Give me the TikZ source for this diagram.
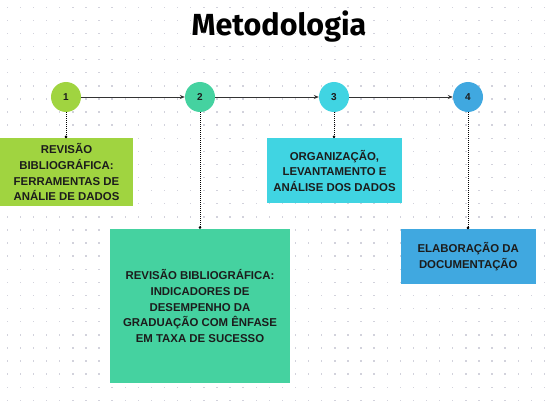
\documentclass[tikz,border=0pt]{standalone}
\usepackage{fontspec}
\setmainfont{Liberation Sans}
\newfontfamily\titlefont{Fira Sans}
\usetikzlibrary{arrows.meta}
\definecolor{cgreen}{HTML}{A0D440}
\definecolor{cteal}{HTML}{45D2A0}
\definecolor{ccyan}{HTML}{40D4E2}
\definecolor{cblue}{HTML}{40A8E0}
\definecolor{cdot}{HTML}{D2D2DC}
\definecolor{ctext}{HTML}{1C1C1C}
\definecolor{cline}{HTML}{333333}
\tikzset{
  circ/.style={circle, minimum size=30pt, inner sep=0pt, text=ctext,
    font=\fontsize{10}{12}\selectfont\bfseries},
  box/.style={rectangle, inner sep=0pt, align=center, text=ctext,
    font=\fontsize{11.4}{15.7}\selectfont\bfseries},
  arr/.style={draw=cline, line width=0.7pt, -{Stealth[length=5pt,width=4pt]}},
  vconn/.style={draw=black, line width=0.6pt, dash pattern=on 1.2pt off 0.8pt,
    -{Circle[length=2.6pt]}},
}
\begin{document}
\begin{tikzpicture}[x=1pt,y=-1pt]
\useasboundingbox (0,0) rectangle (547,409);
\fill[white] (0,0) rectangle (547,409);
% dot grid
\foreach \i in {0,...,41}{
  \foreach \j in {0,...,31}{
    \fill[cdot] ({7.3+13.1*\i-0.7},{7.3+13.1*\j-0.7}) rectangle ++(1.4,1.4);
  }
}
% title
\node[font=\titlefont\fontsize{30.5}{34}\selectfont\bfseries, anchor=base] (title) at (279,36) {Metodologia};
% circles
\node[circ, fill=cgreen] (n1) at (66,97) {1};
\node[circ, fill=cteal] (n2) at (200,97) {2};
\node[circ, fill=ccyan] (n3) at (334,97) {3};
\node[circ, fill=cblue] (n4) at (468,97) {4};
% boxes
\node[box, fill=cgreen, minimum width=133pt, minimum height=67.7pt] (b1) at (66.5,172.2)
  {REVISÃO\\BIBLIOGRÁFICA:\\FERRAMENTAS DE\\ANÁLIE DE DADOS};
\node[box, fill=cteal, minimum width=180pt, minimum height=154.3pt] (b2) at (200,306.2)
  {REVISÃO BIBLIOGRÁFICA:\\INDICADORES DE\\DESEMPENHO DA\\GRADUAÇÃO COM ÊNFASE\\EM TAXA DE SUCESSO};
\node[box, fill=ccyan, minimum width=134.4pt, minimum height=65pt] (b3) at (334.5,170.8)
  {ORGANIZAÇÃO,\\LEVANTAMENTO E\\ANÁLISE DOS DADOS};
\node[box, fill=cblue, minimum width=134.7pt, minimum height=54.7pt] (b4) at (468.3,256.7)
  {ELABORAÇÃO DA\\DOCUMENTAÇÃO};
% connectors
\draw[arr] (n1) -- (n2);
\draw[arr] (n2) -- (n3);
\draw[arr] (n3) -- (n4);
\draw[vconn] (n1.south) -- (n1.south |- b1.north);
\draw[vconn] (n2.south) -- (n2.south |- b2.north);
\draw[vconn] (n3.south) -- (n3.south |- b3.north);
\draw[vconn] (n4.south) -- (n4.south |- b4.north);
\end{tikzpicture}
\end{document}
